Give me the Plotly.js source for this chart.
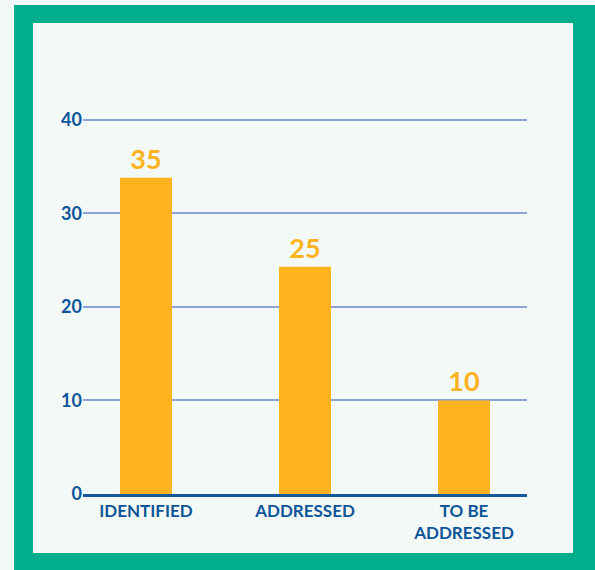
<!DOCTYPE html>
<html>
<head>
<meta charset="utf-8">
<script src="https://cdn.plot.ly/plotly-3.0.1.min.js"></script>
<style>
html,body{margin:0;padding:0;background:#F3F9F7;}
#chart{width:595px;height:570px;}
</style>
</head>
<body>
<div id="chart"></div>
<script>
// Data
const categories = ["IDENTIFIED", "ADDRESSED", "TO BE<br>ADDRESSED"];
const barValues = [33.8, 24.3, 10];
const barLabels = ["35", "25", "10"];
const yTicks = [0, 10, 20, 30, 40];

const W = 595, H = 570;
const M = {l: 83, r: 68, t: 117, b: 76};
const pw = W - M.l - M.r, ph = H - M.t - M.b;
function px(x){ return (x - M.l) / pw; }
function py(y){ return (H - M.b - y) / ph; }

const FONT = "Lato, 'Open Sans', sans-serif";
const BLUE = "#0D5599";
const ORANGE = "#FDB31D";

const trace = {
  type: "bar",
  x: categories,
  y: barValues,
  text: barLabels,
  textposition: "outside",
  cliponaxis: false,
  textfont: {family: FONT, size: 27, color: ORANGE, weight: "bold"},
  marker: {color: ORANGE},
  width: 0.327,
  hoverinfo: "none"
};

const layout = {
  width: W, height: H,
  margin: M,
  paper_bgcolor: "#F3F9F7",
  plot_bgcolor: "rgba(0,0,0,0)",
  showlegend: false,
  font: {family: FONT},
  xaxis: {
    type: "category",
    range: [-0.396, 2.396],
    showgrid: false,
    zeroline: false,
    showline: true,
    linecolor: "#155A9C",
    linewidth: 2.5,
    ticks: "",
    tickfont: {family: FONT, size: 17, color: BLUE, weight: "bold"},
    fixedrange: true
  },
  yaxis: {
    range: [0, 40.3],
    tickvals: yTicks,
    ticktext: yTicks.map(String),
    showgrid: true,
    gridcolor: "#8EA2D8",
    gridwidth: 2,
    zeroline: false,
    showline: false,
    ticks: "",
    tickfont: {family: FONT, size: 18, color: BLUE, weight: "bold"},
    fixedrange: true
  },
  shapes: [
    {type: "rect", xref: "paper", yref: "paper", layer: "below",
     x0: px(14), x1: px(600), y0: py(575), y1: py(5),
     fillcolor: "#00AE8E", line: {width: 0}},
    {type: "rect", xref: "paper", yref: "paper", layer: "below",
     x0: px(33), x1: px(573), y0: py(553), y1: py(23),
     fillcolor: "#F3F9F7", line: {width: 0}}
  ]
};

Plotly.newPlot("chart", [trace], layout, {displayModeBar: false, staticPlot: true});
</script>
</body>
</html>
